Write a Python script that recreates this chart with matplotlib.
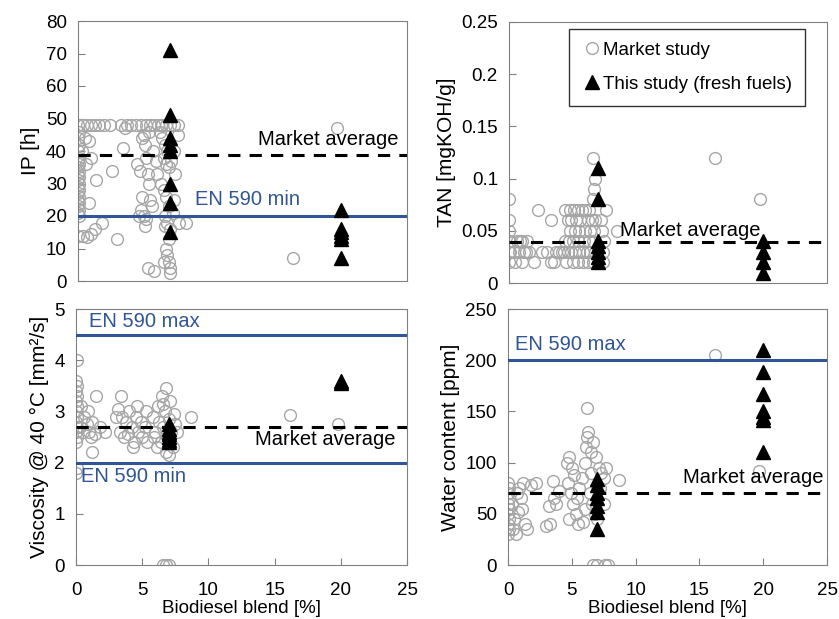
import matplotlib
matplotlib.use("Agg")
import matplotlib.pyplot as plt
from matplotlib.lines import Line2D

plt.rcParams["font.family"] = ["Liberation Sans Narrow", "Liberation Sans", "DejaVu Sans"]

GREY = "#a6a6a6"
BLUE = "#2f5597"

# ---- IP [h] ----
ip_mkt_x = [0.0, 0.1, 0.0, 0.1, 0.0, 0.1, 0.0, 0.1, 0.0, 0.1, 0.0, 0.1, 0.0, 0.1, 0.0, 0.1,
            0.0, 0.1, 0.0, 0.1, 0.0, 0.1, 0.0, 0.1, 0.0,
            0.4, 0.7, 1.0, 1.3, 1.6, 2.0, 2.4, 3.3, 3.7, 4.0, 4.4, 4.8, 5.2, 5.5, 5.8, 6.1,
            6.4, 6.7, 7.0, 7.3, 7.6,
            0.5, 0.8, 1.0, 1.4, 0.4, 0.7, 1.0, 1.3, 0.8, 1.8, 0.3, 0.6,
            3.4, 2.6, 3.0, 3.6,
            4.5, 4.7, 4.9, 5.0, 5.1, 5.2, 5.3, 5.4, 4.8, 5.0, 5.2, 5.1, 5.5, 5.6, 4.6, 5.7,
            5.9, 6.0, 5.3, 5.8, 4.9, 5.4,
            6.2, 6.4, 6.6, 6.8, 6.5, 6.7, 6.9, 7.1, 7.3, 6.3, 6.5, 6.7, 6.9, 7.2, 6.6, 6.8,
            7.0, 6.9, 6.7, 6.8, 6.9, 7.0, 7.0, 6.6, 6.5, 7.4, 7.6, 6.3, 7.7, 8.2, 7.3,
            16.3, 19.7]
ip_mkt_y = [14, 20, 21, 22, 23, 24, 25, 26, 27, 28, 29, 30, 31, 32, 33, 34,
            35, 36, 37, 38, 40, 42, 44, 46, 48,
            48, 48, 48, 48, 48, 48, 48, 48, 48, 48, 48, 48, 48, 48, 48, 48,
            48, 48, 48, 48, 48,
            44, 43, 38, 31, 14, 13.5, 14.5, 16, 24, 18, 40, 36,
            41, 34, 13, 47,
            36, 34, 26, 45, 42, 38, 33, 30, 22, 20, 19, 17, 25, 23, 20, 40,
            37, 33, 4, 3, 44, 46,
            46, 44, 42, 40, 38, 36, 35, 37, 40, 30, 28, 26, 23, 21, 20, 18,
            16, 13, 10, 8, 6, 4, 2.5, 17, 6, 33, 45, 48, 18, 18, 25,
            7, 47]
ip_this_x = [7, 7, 7, 7, 7, 7, 7, 7, 20, 20, 20, 20, 20, 20]
ip_this_y = [71, 51, 44, 42, 40, 30, 24, 15, 22, 16, 15, 14, 13, 7]

# ---- TAN [mgKOH/g] ----
tan_mkt_x = [0, 0, 0, 0, 0, 0, 0.1, 0.1,
             0.4, 0.6, 0.8, 1.0, 1.2, 1.4, 0.5, 1.0, 1.6, 1.3, 0.9,
             2.3, 2.0, 2.6, 3.0, 3.3, 3.5, 3.3, 3.7, 3.9, 4.2,
             4.4, 4.8, 5.1, 5.4, 5.7, 6.0, 6.3, 7.6,
             4.6, 4.9, 5.3, 5.6, 6.2, 6.5, 6.8, 7.2,
             4.8, 5.2, 5.5, 6.0, 6.4, 6.7, 7.3,
             4.4, 4.7, 5.0, 5.4, 5.9, 6.3, 6.6, 7.5,
             4.3, 4.6, 4.9, 5.2, 5.5, 5.8, 6.1, 6.4, 6.8, 7.4,
             4.5, 5.0, 5.4, 5.8, 6.2, 6.6, 7.4,
             6.6, 6.8, 6.7, 6.6, 8.5, 16.2, 19.7]
tan_mkt_y = [0.02, 0.03, 0.04, 0.05, 0.06, 0.08, 0.03, 0.04,
             0.03, 0.04, 0.03, 0.04, 0.03, 0.04, 0.02, 0.02, 0.03, 0.03, 0.04,
             0.07, 0.02, 0.03, 0.03, 0.06, 0.02, 0.02, 0.03, 0.03, 0.03,
             0.07, 0.07, 0.07, 0.07, 0.07, 0.07, 0.07, 0.07,
             0.06, 0.06, 0.06, 0.06, 0.06, 0.06, 0.06, 0.06,
             0.05, 0.05, 0.05, 0.05, 0.05, 0.05, 0.05,
             0.04, 0.04, 0.04, 0.04, 0.04, 0.04, 0.04, 0.04,
             0.03, 0.03, 0.03, 0.03, 0.03, 0.03, 0.03, 0.03, 0.03, 0.03,
             0.02, 0.02, 0.02, 0.02, 0.02, 0.02, 0.02,
             0.12, 0.10, 0.09, 0.08, 0.05, 0.12, 0.08]
tan_this_x = [7, 7, 7, 7, 7, 7, 7, 20, 20, 20, 20]
tan_this_y = [0.11, 0.08, 0.04, 0.035, 0.03, 0.025, 0.02, 0.04, 0.03, 0.02, 0.01]

# ---- Viscosity @ 40 C [mm2/s] ----
vis_mkt_x = [0.0, 0.05, 0.0, 0.05, 0.0, 0.05, 0.0, 0.05, 0.0, 0.05, 0.0, 0.05, 0.0, 0.05, 0.0, 0.05,
             0.3, 0.5, 0.6, 0.8, 1.0, 1.2, 1.4, 1.5, 1.2, 1.8, 2.2, 0.9, 0.4, 1.1,
             3.0, 3.2, 3.4, 3.5, 3.3, 3.6, 3.8, 4.0, 4.2, 4.4, 4.5, 4.7, 4.3, 4.9, 5.0, 5.2,
             5.3, 5.4, 3.9, 4.6,
             5.8, 6.0, 6.2, 6.3, 6.4, 6.5, 6.6, 6.7, 6.8, 6.9, 7.0, 7.1, 7.2, 7.3, 7.4, 7.5,
             6.1, 6.8, 7.0, 7.6, 5.9, 6.6,
             8.7, 16.2, 19.8,
             6.6, 6.8, 7.0]
vis_mkt_y = [1.8, 1.9, 2.4, 2.5, 2.6, 2.7, 2.8, 2.9, 3.0, 3.1, 3.2, 3.3, 3.4, 3.5, 3.6, 4.0,
             2.7, 2.6, 2.9, 2.75, 2.6, 2.8, 2.55, 3.3, 2.2, 2.7, 2.6, 3.0, 3.1, 2.5,
             2.9, 3.05, 3.3, 2.9, 2.6, 2.5, 2.8, 3.0, 2.7, 2.4, 2.9, 2.6, 2.3, 2.8, 2.5, 2.7,
             3.0, 2.4, 2.55, 3.1,
             2.9, 2.6, 3.1, 2.8, 2.4, 3.3, 2.7, 3.0, 3.45, 2.5, 2.85, 3.2, 2.6, 2.3, 2.95, 2.75,
             2.3, 2.2, 2.15, 2.6, 2.5, 3.15,
             2.9, 2.93, 2.75,
             0, 0, 0]
vis_this_x = [7, 7, 7, 7, 7, 7, 7, 20, 20]
vis_this_y = [2.75, 2.65, 2.6, 2.55, 2.5, 2.45, 2.4, 3.6, 3.55]

# ---- Water content [ppm] ----
wat_mkt_x = [0.0, 0.1, 0.0, 0.1, 0.0, 0.1, 0.0, 0.1, 0.0, 0.1, 0.0,
             0.3, 0.5, 0.7, 0.9, 1.1, 1.3, 0.4, 0.8, 1.5, 1.2, 1.8, 2.2, 1.0, 0.6,
             3.0, 3.3, 3.5, 3.6, 3.8, 4.0, 3.2,
             4.6, 4.8, 5.0, 5.2, 4.7, 4.9, 5.1, 5.3, 4.8, 5.5, 5.6, 5.8, 6.0, 6.1, 6.2, 6.3,
             6.5, 6.7, 6.9, 7.1, 7.3, 7.5, 7.7, 6.4, 6.6, 6.8, 7.0, 6.2, 5.4, 6.0, 7.2, 7.5,
             5.9, 6.5,
             8.7, 16.2, 19.7,
             6.7, 7.0, 7.6, 7.8]
wat_mkt_y = [30, 35, 40, 45, 50, 55, 60, 65, 70, 75, 80,
             60, 45, 70, 75, 55, 40, 35, 52, 35, 80, 78, 80, 65, 30,
             38, 40, 82, 65, 60, 72, 58,
             100, 105, 95, 88, 80, 70, 60, 50, 45, 40, 75, 85, 100, 115, 125, 130,
             110, 120, 105, 95, 90, 85, 95, 70, 60, 50, 45, 153, 65, 55, 75, 60,
             42, 90,
             83, 205, 92,
             0, 0, 0, 0]
wat_this_x = [7, 7, 7, 7, 7, 7, 7, 20, 20, 20, 20, 20, 20, 20]
wat_this_y = [84, 78, 70, 65, 58, 52, 35, 210, 188, 167, 150, 145, 142, 110]

panels = [
    dict(mx=ip_mkt_x, my=ip_mkt_y, tx=ip_this_x, ty=ip_this_y,
         ylim=(0, 80), yticks=[0, 10, 20, 30, 40, 50, 60, 70, 80],
         ylabel="IP [h]", avg=38.8, limits=[20],
         rect=[78, 21, 407, 281]),
    dict(mx=tan_mkt_x, my=tan_mkt_y, tx=tan_this_x, ty=tan_this_y,
         ylim=(0, 0.25), yticks=[0, 0.05, 0.1, 0.15, 0.2, 0.25],
         ylabel="TAN [mgKOH/g]", avg=0.039, limits=[],
         rect=[509, 22, 827, 283]),
    dict(mx=vis_mkt_x, my=vis_mkt_y, tx=vis_this_x, ty=vis_this_y,
         ylim=(0, 5), yticks=[0, 1, 2, 3, 4, 5],
         ylabel="Viscosity @ 40 °C [mm²/s]", avg=2.7, limits=[2.0, 4.5],
         rect=[76, 309, 407, 565]),
    dict(mx=wat_mkt_x, my=wat_mkt_y, tx=wat_this_x, ty=wat_this_y,
         ylim=(0, 250), yticks=[0, 50, 100, 150, 200, 250],
         ylabel="Water content [ppm]", avg=70, limits=[200],
         rect=[508, 309, 827, 565]),
]

W, H = 839, 619
fig = plt.figure(figsize=(W / 100, H / 100), dpi=100)
axes = []
for i, p in enumerate(panels):
    l, t, r, b = p["rect"]
    ax = fig.add_axes([l / W, 1 - b / H, (r - l) / W, (b - t) / H])
    axes.append(ax)
    ax.plot(p["mx"], p["my"], "o", ms=8.5, mfc="none", mec=GREY, mew=1.0, zorder=2)
    ax.axhline(p["avg"], color="black", ls=(0, (4, 3)), lw=2.2, zorder=3)
    for lim in p["limits"]:
        ax.axhline(lim, color=BLUE, lw=2.2, zorder=3)
    ax.plot(p["tx"], p["ty"], "^", ms=10, color="black", zorder=4)
    ax.set_xlim(0, 25)
    ax.set_ylim(*p["ylim"])
    ax.set_yticks(p["yticks"])
    ax.set_yticklabels([("%g" % v) for v in p["yticks"]])
    ax.set_ylabel(p["ylabel"], fontsize=15, labelpad=4)
    for s in ax.spines.values():
        s.set_color("#808080")
    ax.tick_params(axis="y", direction="in", length=5, color="#808080", labelsize=13.5, pad=8)
    if i < 2:
        ax.set_xticks([])
    else:
        ax.set_xticks([0, 5, 10, 15, 20, 25])
        ax.tick_params(axis="x", direction="in", length=5, color="#808080",
                       labelsize=13.5, pad=12)
        ax.set_xlabel("Biodiesel blend [%]", fontsize=13.5, labelpad=1)

txt = dict(fontsize=14.5)
axes[0].text(13.7, 40.5, "Market average", color="black", va="bottom", **txt)
axes[0].text(8.9, 25, "EN 590 min", color=BLUE, va="center", **txt)
axes[1].text(8.7, 0.05, "Market average", color="black", va="center", **txt)
axes[2].text(1.0, 4.75, "EN 590 max", color=BLUE, va="center", **txt)
axes[2].text(13.5, 2.45, "Market average", color="black", va="center", **txt)
axes[2].text(0.4, 1.72, "EN 590 min", color=BLUE, va="center", **txt)
axes[3].text(0.55, 215, "EN 590 max", color=BLUE, va="center", **txt)
axes[3].text(13.7, 85, "Market average", color="black", va="center", **txt)

handles = [
    Line2D([], [], ls="none", marker="o", ms=8.5, mfc="none", mec=GREY, mew=1.0),
    Line2D([], [], ls="none", marker="^", ms=10, color="black"),
]
leg = axes[1].legend(handles, ["Market study", "This study (fresh fuels)"],
                     loc="upper right", bbox_to_anchor=(0.931, 0.975),
                     fontsize=13.5, frameon=True, fancybox=False,
                     handletextpad=0.1, handlelength=1.0, labelspacing=0.9,
                     borderpad=0.7, borderaxespad=0)
leg.get_frame().set_edgecolor("black")
leg.get_frame().set_linewidth(1.0)

fig.savefig("out.png", dpi=100)
